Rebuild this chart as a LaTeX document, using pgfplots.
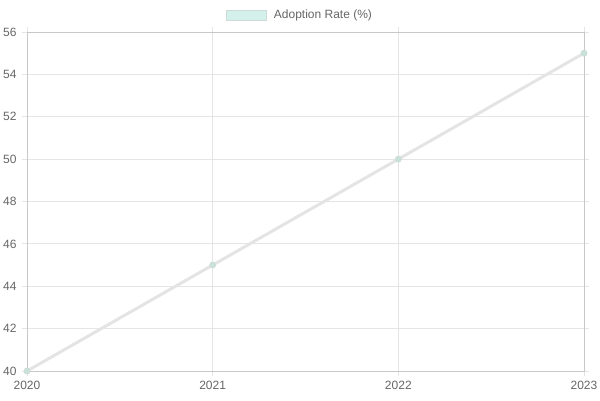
\documentclass[border=0pt]{standalone}
\usepackage{fontspec}
\setmainfont{Liberation Sans}
\usepackage{pgfplots}
\pgfplotsset{compat=1.18}
\definecolor{gridc}{RGB}{229,229,229}
\definecolor{axisc}{RGB}{200,200,200}
\definecolor{textc}{RGB}{102,102,102}
\definecolor{linec}{RGB}{228,228,228}
\definecolor{markfill}{RGB}{212,240,235}
\definecolor{markdot}{RGB}{200,225,218}
\definecolor{markdraw}{RGB}{205,222,217}
\definecolor{legborder}{RGB}{205,218,215}
\begin{document}
\begin{tikzpicture}
\path[use as bounding box] (-27pt,-29pt) rectangle (573pt,371pt);
\begin{axis}[
    at={(0,0)}, anchor=south west,
    scale only axis,
    width=557pt, height=339pt,
    xmin=2020, xmax=2023,
    ymin=40, ymax=56,
    xtick={2020,2021,2022,2023},
    ytick={40,42,...,56},
    /pgf/number format/assume math mode=true,
    /pgf/number format/1000 sep={},
    font=\fontsize{12}{14}\selectfont,
    tick label style={text=textc},
    grid=major,
    major grid style={gridc, line width=0.8pt},
    axis line style={axisc, line width=0.8pt},
    tick style={gridc, line width=0.8pt},
    tick align=outside,
    major tick length=5pt,
    xticklabel style={yshift=-2pt},
    yticklabel style={xshift=-2pt},
    clip=false,
    legend style={
        at={(0.49,1.05)}, anchor=center,
        draw=none, fill=none,
        font=\fontsize{12}{14}\selectfont\color{textc},
    },
    legend cell align=left,
    legend image code/.code={
        \draw[fill=markfill, draw=legborder, line width=1pt] (0pt,-5pt) rectangle (40pt,5pt);
        \path (44pt,0pt);
    },
]
\addplot[linec, line width=3pt, mark=*, mark size=3pt,
    mark options={fill=markdot, draw=markdraw, line width=0.8pt}]
    coordinates {(2020,40) (2021,45) (2022,50) (2023,55)};
\addlegendentry{Adoption Rate (\%)}
\end{axis}
\end{tikzpicture}
\end{document}
